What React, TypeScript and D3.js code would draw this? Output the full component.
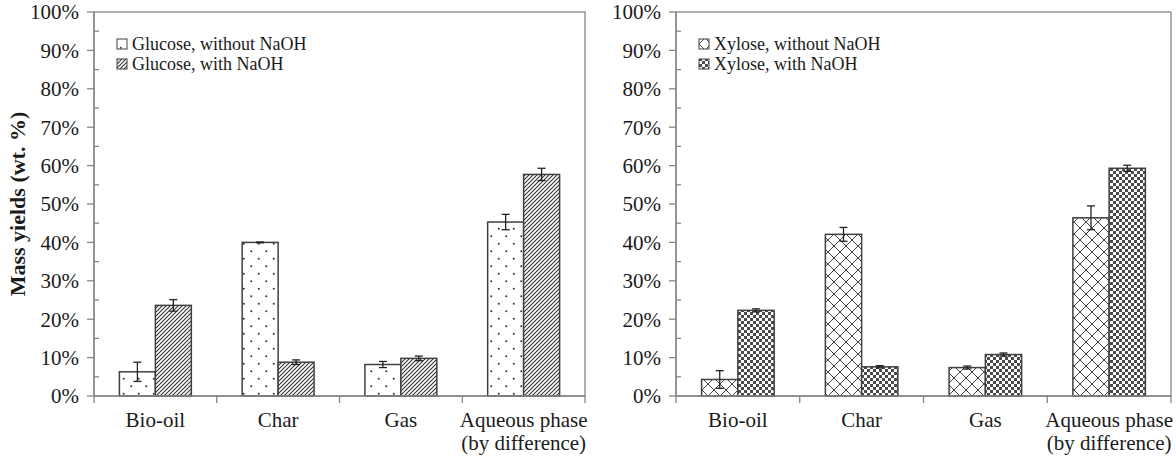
import React from "react";
import * as d3 from "d3";

const categories = ["Bio-oil", "Char", "Gas", "Aqueous phase\n(by difference)"];
const yTicks = [0, 10, 20, 30, 40, 50, 60, 70, 80, 90, 100];

const glucoseSeries = ["Glucose, without NaOH", "Glucose, with NaOH"];
const glucoseWithout = [6.3, 40.0, 8.2, 45.3];
const glucoseWithoutErr = [2.5, 0.1, 0.8, 2.0];
const glucoseWith = [23.6, 8.8, 9.8, 57.7];
const glucoseWithErr = [1.5, 0.6, 0.6, 1.6];

const xyloseSeries = ["Xylose, without NaOH", "Xylose, with NaOH"];
const xyloseWithout = [4.3, 42.1, 7.4, 46.4];
const xyloseWithoutErr = [2.3, 1.8, 0.4, 3.1];
const xyloseWith = [22.3, 7.6, 10.8, 59.3];
const xyloseWithErr = [0.4, 0.3, 0.4, 0.8];

const FONT = "'Liberation Serif', 'Times New Roman', serif";
const AXIS = "#868686";
const OUTLINE = "#404040";

type PanelProps = {
  x0: number;
  x1: number;
  top: number;
  bottom: number;
  names: string[];
  v1: number[];
  e1: number[];
  v2: number[];
  e2: number[];
  fills: string[];
  showYLabel: boolean;
};

function Panel({ x0, x1, top, bottom, names, v1, e1, v2, e2, fills, showYLabel }: PanelProps) {
  const y = d3.scaleLinear().domain([0, 100]).range([bottom, top]);
  const x = d3.scaleBand().domain(categories).range([x0, x1]).paddingInner(0).paddingOuter(0);
  const bw = x.bandwidth();
  const barW = bw * 0.293;
  const minor = d3.range(5, 100, 10);
  const seriesVals = [v1, v2];
  const seriesErr = [e1, e2];
  const txt = { fontFamily: FONT, fill: "#1a1a1a" } as React.CSSProperties;
  return (
    <g>
      <rect x={x0} y={top} width={x1 - x0} height={bottom - top} fill="none" stroke={AXIS} strokeWidth={1.3} />
      {categories.map((c, i) => {
        const cx = (x(c) as number) + bw / 2;
        return (
          <g key={c}>
            {[0, 1].map((s) => {
              const val = seriesVals[s][i];
              const err = seriesErr[s][i];
              const bx = cx - barW + s * barW;
              const mid = bx + barW / 2;
              return (
                <g key={s}>
                  <rect x={bx} y={y(val)} width={barW} height={y(0) - y(val)} fill={fills[s]} stroke={OUTLINE} strokeWidth={1.5} />
                  <line x1={mid} x2={mid} y1={y(val + err)} y2={y(val - err)} stroke="#222" strokeWidth={1.3} />
                  <line x1={mid - 4} x2={mid + 4} y1={y(val + err)} y2={y(val + err)} stroke="#222" strokeWidth={1.3} />
                  <line x1={mid - 4} x2={mid + 4} y1={y(val - err)} y2={y(val - err)} stroke="#222" strokeWidth={1.3} />
                </g>
              );
            })}
          </g>
        );
      })}
      <line x1={x0} x2={x0} y1={top} y2={bottom} stroke={AXIS} strokeWidth={1.3} />
      <line x1={x0} x2={x1} y1={bottom} y2={bottom} stroke={AXIS} strokeWidth={1.3} />
      {yTicks.map((t) => (
        <g key={t}>
          <line x1={x0 - 7} x2={x0} y1={y(t)} y2={y(t)} stroke={AXIS} strokeWidth={1.3} />
          <text x={x0 - 15} y={y(t)} dy="0.35em" textAnchor="end" style={{ ...txt, fontSize: 21 }}>
            {t}%
          </text>
        </g>
      ))}
      {minor.map((t) => (
        <line key={t} x1={x0} x2={x0 + 5} y1={y(t)} y2={y(t)} stroke={AXIS} strokeWidth={1.3} />
      ))}
      {categories.map((c) => (
        <line key={c} x1={x(c) as number} x2={x(c) as number} y1={bottom} y2={bottom + 7} stroke={AXIS} strokeWidth={1.3} />
      ))}
      <line x1={x1} x2={x1} y1={bottom} y2={bottom + 7} stroke={AXIS} strokeWidth={1.3} />
      {categories.map((c) => {
        const lines = c.split("\n");
        const cx = (x(c) as number) + bw / 2;
        return (
          <text key={c} x={cx} y={bottom + 31} textAnchor="middle" style={{ ...txt, fontSize: 21 }}>
            {lines.map((l, k) => (
              <tspan key={k} x={cx} dy={k === 0 ? 0 : 23}>
                {l}
              </tspan>
            ))}
          </text>
        );
      })}
      {names.map((n, k) => (
        <g key={n} transform={`translate(${x0 + 23},${top + 32 + k * 20})`}>
          <rect x={0} y={-5} width={10} height={10} fill={fills[k]} stroke={OUTLINE} strokeWidth={1} />
          <text x={15} y={0} dy="0.35em" style={{ ...txt, fontSize: 18 }}>
            {n}
          </text>
        </g>
      ))}
      {showYLabel && (
        <text
          transform={`translate(25,${(top + bottom) / 2}) rotate(-90)`}
          textAnchor="middle"
          style={{ ...txt, fontSize: 22, fontWeight: "bold" }}
        >
          Mass yields (wt. %)
        </text>
      )}
    </g>
  );
}

export default function App() {
  return (
    <svg width={1176} height={456} style={{ display: "block", position: "absolute", left: 0, top: 0, background: "#fff" }}>
      <defs>
        <pattern id="dots" width={15} height={15} patternUnits="userSpaceOnUse">
          <rect width={15} height={15} fill="#fff" />
          <circle cx={3.75} cy={3.75} r={1} fill="#333" />
          <circle cx={11.25} cy={11.25} r={1} fill="#333" />
        </pattern>
        <pattern id="diag" width={4} height={4} patternUnits="userSpaceOnUse">
          <rect width={4} height={4} fill="#fff" />
          <path d="M-1,1 l2,-2 M0,4 l4,-4 M3,5 l2,-2" stroke="#333" strokeWidth={1.1} />
        </pattern>
        <pattern id="cross" width={12} height={12} patternUnits="userSpaceOnUse">
          <rect width={12} height={12} fill="#fff" />
          <path d="M0,0 L12,12 M12,0 L0,12" stroke="#444" strokeWidth={1} />
        </pattern>
        <pattern id="check" width={6} height={6} patternUnits="userSpaceOnUse">
          <rect width={6} height={6} fill="#fff" />
          <rect x={0} y={0} width={3} height={3} fill="#4a4a4a" />
          <rect x={3} y={3} width={3} height={3} fill="#4a4a4a" />
        </pattern>
      </defs>
      <rect width={1176} height={456} fill="#fff" />
      <Panel
        x0={94}
        x1={585}
        top={12}
        bottom={396}
        names={glucoseSeries}
        v1={glucoseWithout}
        e1={glucoseWithoutErr}
        v2={glucoseWith}
        e2={glucoseWithErr}
        fills={["url(#dots)", "url(#diag)"]}
        showYLabel={true}
      />
      <Panel
        x0={676}
        x1={1171}
        top={12}
        bottom={396}
        names={xyloseSeries}
        v1={xyloseWithout}
        e1={xyloseWithoutErr}
        v2={xyloseWith}
        e2={xyloseWithErr}
        fills={["url(#cross)", "url(#check)"]}
        showYLabel={false}
      />
    </svg>
  );
}
